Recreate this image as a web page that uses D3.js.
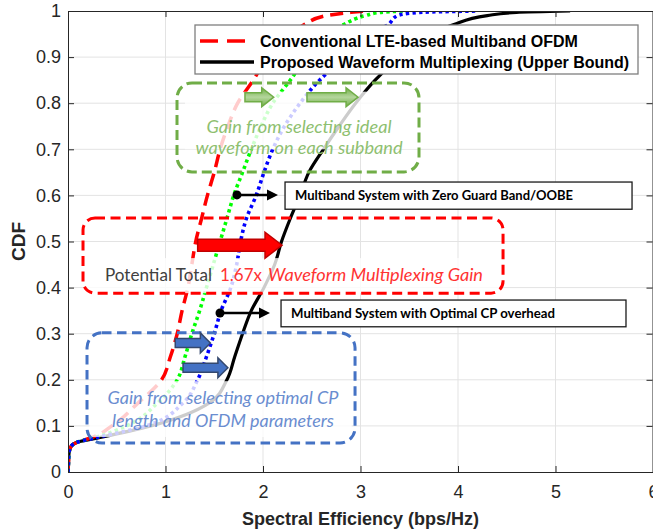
<!DOCTYPE html>
<html><head><meta charset="utf-8">
<script src="https://cdn.jsdelivr.net/npm/d3@7/dist/d3.min.js"></script>
<style>body{margin:0;background:#fff}svg{display:block}</style>
</head><body><svg id="c" width="653" height="531"></svg>
<script>
// ---------- data ----------
const cdfLevels = [0, 0.02, 0.04, 0.055, 0.065, 0.075, 0.1, 0.15, 0.2, 0.25, 0.3, 0.35, 0.4, 0.45, 0.5, 0.55, 0.6, 0.65, 0.7, 0.75, 0.8, 0.85, 0.9, 0.95, 0.97, 0.99, 0.997, 1.0];
const conventionalSE = [0, 0.005, 0.01, 0.03, 0.1, 0.25, 0.45, 0.72, 0.96, 1.05, 1.12, 1.17, 1.23, 1.27, 1.31, 1.37, 1.43, 1.50, 1.56, 1.64, 1.74, 1.90, 2.05, 2.28, 2.42, 2.65, 2.9, 3.05];
const zeroGuardSE    = [0, 0.005, 0.01, 0.03, 0.1, 0.28, 0.6, 0.92, 1.12, 1.20, 1.27, 1.35, 1.42, 1.49, 1.56, 1.63, 1.70, 1.79, 1.88, 1.98, 2.10, 2.28, 2.45, 2.65, 2.82, 3.05, 3.2, 3.45];
const optimalCPSE    = [0, 0.005, 0.01, 0.03, 0.1, 0.30, 0.8, 1.18, 1.33, 1.42, 1.50, 1.57, 1.67, 1.73, 1.77, 1.83, 1.93, 2.01, 2.10, 2.22, 2.38, 2.58, 2.85, 3.10, 3.28, 3.38, 3.6, 4.2];
const proposedSE     = [0, 0.005, 0.01, 0.03, 0.1, 0.33, 0.85, 1.45, 1.63, 1.71, 1.79, 1.88, 2.01, 2.12, 2.19, 2.28, 2.38, 2.47, 2.62, 2.78, 2.95, 3.15, 3.40, 3.70, 3.95, 4.30, 4.6, 5.15];
const xTicks = [0, 1, 2, 3, 4, 5, 6];
const yTicks = [0, 0.1, 0.2, 0.3, 0.4, 0.5, 0.6, 0.7, 0.8, 0.9, 1];
const legendLabels = ["Conventional LTE-based Multiband OFDM", "Proposed Waveform Multiplexing (Upper Bound)"];
const boxLabels = ["Multiband System with Zero Guard Band/OOBE", "Multiband System with Optimal CP overhead"];
const xLabel = "Spectral Efficiency (bps/Hz)";
const yLabel = "CDF";

// ---------- layout ----------
const svg = d3.select("#c");
const x = d3.scaleLinear().domain([0, 6]).range([68, 653]);
const y = d3.scaleLinear().domain([0, 1]).range([472, 11]);
const AX = "#262626";
const FONT = "'Liberation Sans', Arial, sans-serif";
const LIGHT = "Lato, 'Open Sans', sans-serif";

svg.append("rect").attr("width", 653).attr("height", 531).attr("fill", "#fff");

const defs = svg.append("defs");
defs.append("clipPath").attr("id", "plot").append("rect")
  .attr("x", x(0)).attr("y", y(1)).attr("width", x(6) - x(0)).attr("height", y(0) - y(1));
const gg = defs.append("linearGradient").attr("id", "ggrad").attr("x1", 0).attr("x2", 0).attr("y1", 0).attr("y2", 1);
gg.append("stop").attr("offset", "0%").attr("stop-color", "#70ad47");
gg.append("stop").attr("offset", "50%").attr("stop-color", "#b4d69c");
gg.append("stop").attr("offset", "100%").attr("stop-color", "#70ad47");

// grid
const grid = svg.append("g").attr("stroke", "#e3e3e3").attr("stroke-width", 1);
xTicks.slice(1, -1).forEach(t => grid.append("line").attr("x1", x(t)).attr("x2", x(t)).attr("y1", y(0)).attr("y2", y(1)));
yTicks.slice(1, -1).forEach(t => grid.append("line").attr("y1", y(t)).attr("y2", y(t)).attr("x1", x(0)).attr("x2", x(6)));

// curves
const line = d3.line().x(d => x(d[0])).y(d => y(d[1])).curve(d3.curveMonotoneY);
const series = [
  {v: proposedSE, color: "#000", dash: null, w: 3.2},
  {v: conventionalSE, color: "#ff0000", dash: "13,7", w: 3.5},
  {v: zeroGuardSE, color: "#00ff00", dash: "3.3,3.3", w: 3.6},
  {v: optimalCPSE, color: "#0000ff", dash: "3.3,3.3", w: 3.6}
];
const cg = svg.append("g").attr("clip-path", "url(#plot)");
series.forEach(s => {
  cg.append("path").datum(s.v.map((v, i) => [v, cdfLevels[i]]))
    .attr("d", line).attr("fill", "none").attr("stroke", s.color)
    .attr("stroke-width", s.w).attr("stroke-dasharray", s.dash);
});

// translucent text backgrounds
const fades = [
  [1.2, 3.6, 0.825, 0.7],
  [0.185, 4.43, 0.464, 0.388],
  [0.22, 2.91, 0.197, 0.076]
];
fades.forEach(f => svg.append("rect").attr("x", x(f[0])).attr("width", x(f[1]) - x(f[0]))
  .attr("y", y(f[2])).attr("height", y(f[3]) - y(f[2])).attr("fill", "#fff").attr("opacity", 0.8));

// axes
const ax = svg.append("g").attr("font-family", FONT);
const axB = ax.append("g").attr("transform", `translate(0,${y(0)})`)
  .call(d3.axisBottom(x).tickValues(xTicks).tickSizeInner(-6).tickSizeOuter(0).tickPadding(13).tickFormat(d3.format("d")));
const axL = ax.append("g").attr("transform", `translate(${x(0)},0)`)
  .call(d3.axisLeft(y).tickValues(yTicks).tickSizeInner(-6).tickSizeOuter(0).tickPadding(7).tickFormat(d => d === 0 || d === 1 ? d3.format("d")(d) : d3.format(".1f")(d)));
const axT = ax.append("g").attr("transform", `translate(0,${y(1)})`)
  .call(d3.axisTop(x).tickValues(xTicks).tickSizeInner(-6).tickSizeOuter(0).tickFormat(""));
const axR = ax.append("g").attr("transform", `translate(${x(6) - 0.5},0)`)
  .call(d3.axisRight(y).tickValues(yTicks).tickSizeInner(-6).tickSizeOuter(0).tickFormat(""));
[axB, axL, axT, axR].forEach(g => {
  g.selectAll("path,line").attr("stroke", AX).attr("stroke-width", 1);
  g.selectAll("text").attr("fill", AX).attr("font-size", 18).attr("font-family", FONT);
});
ax.append("text").attr("x", (x(0) + x(6)) / 2).attr("y", 525).attr("text-anchor", "middle")
  .attr("font-size", 18).attr("font-weight", "bold").attr("fill", AX).text(xLabel);
ax.append("text").attr("transform", `translate(25,${(y(0) + y(1)) / 2}) rotate(-90)`).attr("text-anchor", "middle")
  .attr("font-size", 19).attr("font-weight", "bold").attr("fill", AX).text(yLabel);

// dashed rounded boxes
const boxes = [
  {x0: 1.118, x1: 3.60, c0: 0.844, c1: 0.651, col: "#70ad47", r: 15, dash: "10,5"},
  {x0: 0.154, x1: 4.462, c0: 0.551, c1: 0.388, col: "#ff0000", r: 12, dash: "10,5.5"},
  {x0: 0.195, x1: 2.944, c0: 0.302, c1: 0.063, col: "#4472c4", r: 15, dash: "9.5,5.5"}
];
boxes.forEach(b => svg.append("rect").attr("x", x(b.x0)).attr("y", y(b.c0))
  .attr("width", x(b.x1) - x(b.x0)).attr("height", y(b.c1) - y(b.c0)).attr("rx", b.r)
  .attr("fill", "none").attr("stroke", b.col).attr("stroke-width", 3).attr("stroke-dasharray", b.dash));

// block arrows
function blockArrow(x0, x1, yc, bh, hh, hl) {
  const p = d3.path();
  p.moveTo(x0, yc - bh / 2); p.lineTo(x1 - hl, yc - bh / 2); p.lineTo(x1 - hl, yc - hh / 2);
  p.lineTo(x1, yc); p.lineTo(x1 - hl, yc + hh / 2); p.lineTo(x1 - hl, yc + bh / 2);
  p.lineTo(x0, yc + bh / 2); p.closePath();
  return p.toString();
}
const arrows = [
  {a: 1.815, b: 2.11, c: 0.813, bh: 9, hh: 19, hl: 12, fill: "url(#ggrad)", stroke: "#70ad47"},
  {a: 2.451, b: 2.975, c: 0.813, bh: 9, hh: 19, hl: 12, fill: "url(#ggrad)", stroke: "#70ad47"},
  {a: 1.33, b: 2.195, c: 0.492, bh: 12, hh: 26, hl: 17, fill: "#ff0000", stroke: "#c00000"},
  {a: 1.10, b: 1.46, c: 0.280, bh: 9, hh: 20, hl: 10, fill: "#4472c4", stroke: "#34486e"},
  {a: 1.18, b: 1.64, c: 0.226, bh: 9, hh: 20, hl: 10, fill: "#4472c4", stroke: "#34486e"}
];
arrows.forEach(a => svg.append("path").attr("d", blockArrow(x(a.a), x(a.b), y(a.c), a.bh, a.hh, a.hl))
  .attr("fill", a.fill).attr("stroke", a.stroke).attr("stroke-width", 1.5).attr("stroke-linejoin", "miter"));

// pointer arrows with dot + labelled boxes
const pointers = [
  {dx: 1.733, c: 0.601, ex: 2.154, bx0: 2.226, bx1: 5.785, bc0: 0.629, bc1: 0.570, label: boxLabels[0], tl: 278},
  {dx: 1.559, c: 0.345, ex: 2.072, bx0: 2.185, bx1: 5.723, bc0: 0.373, bc1: 0.315, label: boxLabels[1], tl: 264}
];
pointers.forEach(p => {
  const yy = y(p.c);
  svg.append("line").attr("x1", x(p.dx)).attr("x2", x(p.ex) - 8).attr("y1", yy).attr("y2", yy)
    .attr("stroke", "#000").attr("stroke-width", 2.5);
  svg.append("path").attr("d", `M${x(p.ex)},${yy} L${x(p.ex) - 11},${yy - 5.5} L${x(p.ex) - 11},${yy + 5.5} Z`).attr("fill", "#000");
  svg.append("circle").attr("cx", x(p.dx)).attr("cy", yy).attr("r", 4.5).attr("fill", "#000");
  svg.append("rect").attr("x", x(p.bx0)).attr("y", y(p.bc0)).attr("width", x(p.bx1) - x(p.bx0))
    .attr("height", y(p.bc1) - y(p.bc0)).attr("fill", "#fff").attr("stroke", "#1a1a1a").attr("stroke-width", 1.3);
  svg.append("text").attr("x", x(p.bx0) + 10).attr("y", (y(p.bc0) + y(p.bc1)) / 2 + 4.5)
    .attr("font-family", "Lato, 'Open Sans', sans-serif").attr("font-weight", "bold").attr("font-size", 13)
    .attr("textLength", p.tl).attr("lengthAdjust", "spacingAndGlyphs").attr("fill", "#000").text(p.label);
});

// annotation texts
function italicLines(lines, cx, cys, col, lens) {
  lines.forEach((t, i) => svg.append("text").attr("x", cx).attr("y", cys[i]).attr("text-anchor", "middle")
    .attr("font-family", LIGHT).attr("font-weight", 400).attr("font-style", "italic").attr("font-size", 18)
    .attr("textLength", lens[i]).attr("lengthAdjust", "spacingAndGlyphs").attr("fill", col).text(t));
}
italicLines(["Gain from selecting ideal", "waveform on each subband"], 299, [133, 154], "#8ebf70", [185, 207]);
italicLines(["Gain from selecting optimal CP", "length and OFDM parameters"], 223, [404, 427], "#6a8dd0", [231, 222]);

const totalParts = [
  {t: "Potential Total", x0: 105, len: 107, col: "#404040", st: "normal"},
  {t: "1.67x", x0: 220, len: 42, col: "#ff3333", st: "normal"},
  {t: "Waveform Multiplexing Gain", x0: 268, len: 215, col: "#ff3333", st: "italic"}
];
totalParts.forEach(p => svg.append("text").attr("x", p.x0).attr("y", 281).attr("font-family", LIGHT)
  .attr("font-weight", 400).attr("font-size", 18).attr("font-style", p.st).attr("fill", p.col)
  .attr("textLength", p.len).attr("lengthAdjust", "spacingAndGlyphs").text(p.t));

// legend
const lg = svg.append("g");
lg.append("rect").attr("x", 195).attr("y", 25).attr("width", 443).attr("height", 49)
  .attr("fill", "#fff").attr("stroke", "#7f7f7f").attr("stroke-width", 1.3);
const legendStyles = [{color: "#ff0000", dash: "18,9"}, {color: "#000", dash: null}];
legendLabels.forEach((t, i) => {
  const yy = 41 + i * 21;
  lg.append("line").attr("x1", 200).attr("x2", 254).attr("y1", yy).attr("y2", yy)
    .attr("stroke", legendStyles[i].color).attr("stroke-width", 3.5).attr("stroke-dasharray", legendStyles[i].dash);
  lg.append("text").attr("x", 260).attr("y", yy + 5.5).attr("font-family", FONT).attr("font-weight", "bold")
    .attr("font-size", 16).attr("fill", "#000").text(t);
});
</script></body></html>
